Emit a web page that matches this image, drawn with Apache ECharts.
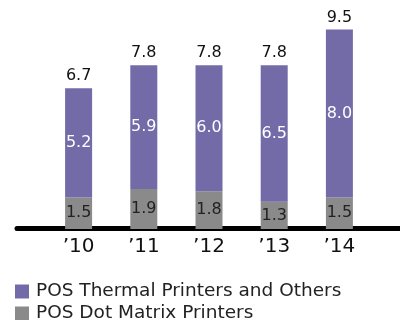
<!DOCTYPE html>
<html><head><meta charset="utf-8">
<script src="https://cdn.jsdelivr.net/npm/echarts@6/dist/echarts.min.js"></script>
<style>html,body{margin:0;padding:0;background:#fff}#c{width:400px;height:320px}</style>
</head><body><div id="c"></div>
<script>
var categories = ['\u201910', '\u201911', '\u201912', '\u201913', '\u201914'];
var dotMatrix = [1.5, 1.9, 1.8, 1.3, 1.5];
var thermal = [5.2, 5.9, 6.0, 6.5, 8.0];
var totals = [6.7, 7.8, 7.8, 7.8, 9.5];
var seriesNames = ['POS Thermal Printers and Others', 'POS Dot Matrix Printers'];

var FONT = 'DejaVu Sans';
var chart = echarts.init(document.getElementById('c'), null, {renderer: 'canvas'});
function legendFor(name, top) {
  return {
    orient: 'vertical', left: 13, top: top, itemWidth: 14, itemHeight: 14, padding: 2,
    icon: 'rect', data: [name], selectedMode: false,
    textStyle: {fontSize: 18.5, color: '#222', fontFamily: FONT, padding: [0, 0, 0, 2]}
  };
}
chart.setOption({
  animation: false,
  textStyle: {fontFamily: FONT},
  grid: [
    {left: 46, right: 28, top: 19, bottom: 91},
    {left: 17, right: 0, bottom: 92, height: 10}
  ],
  xAxis: [
    {type: 'category', data: categories, gridIndex: 0,
     axisLine: {show: false}, axisTick: {show: false},
     axisLabel: {fontSize: 20, color: '#111', fontFamily: FONT, margin: 8}},
    {type: 'value', gridIndex: 1, min: 0, max: 1,
     axisLine: {show: true, onZero: false, lineStyle: {color: '#000', width: 5}},
     axisTick: {show: false}, axisLabel: {show: false}, splitLine: {show: false}}
  ],
  yAxis: [
    {type: 'value', gridIndex: 0, min: 0, max: 10, show: false},
    {type: 'value', gridIndex: 1, show: false}
  ],
  legend: [legendFor(seriesNames[0], 280), legendFor(seriesNames[1], 302)],
  series: [
    {name: seriesNames[1], type: 'bar', stack: 'a', data: dotMatrix, barWidth: 27,
     itemStyle: {color: '#8a8a8a'},
     label: {show: true, position: 'inside', fontSize: 16, color: '#222', fontFamily: FONT, formatter: function(p){return p.value.toFixed(1);}}},
    {name: seriesNames[0], type: 'bar', stack: 'a', data: thermal, barWidth: 27,
     itemStyle: {color: '#736ba8'},
     label: {show: true, position: 'inside', fontSize: 16, color: '#fff', fontFamily: FONT, formatter: function(p){return p.value.toFixed(1);}}},
    {name: 'Total', type: 'bar', data: totals, barWidth: 27, barGap: '-100%', z: 0,
     itemStyle: {color: 'rgba(0,0,0,0)'},
     label: {show: true, position: 'top', distance: 4, fontSize: 16, color: '#111', fontFamily: FONT, formatter: function(p){return p.value.toFixed(1);}}}
  ]
});
</script></body></html>
